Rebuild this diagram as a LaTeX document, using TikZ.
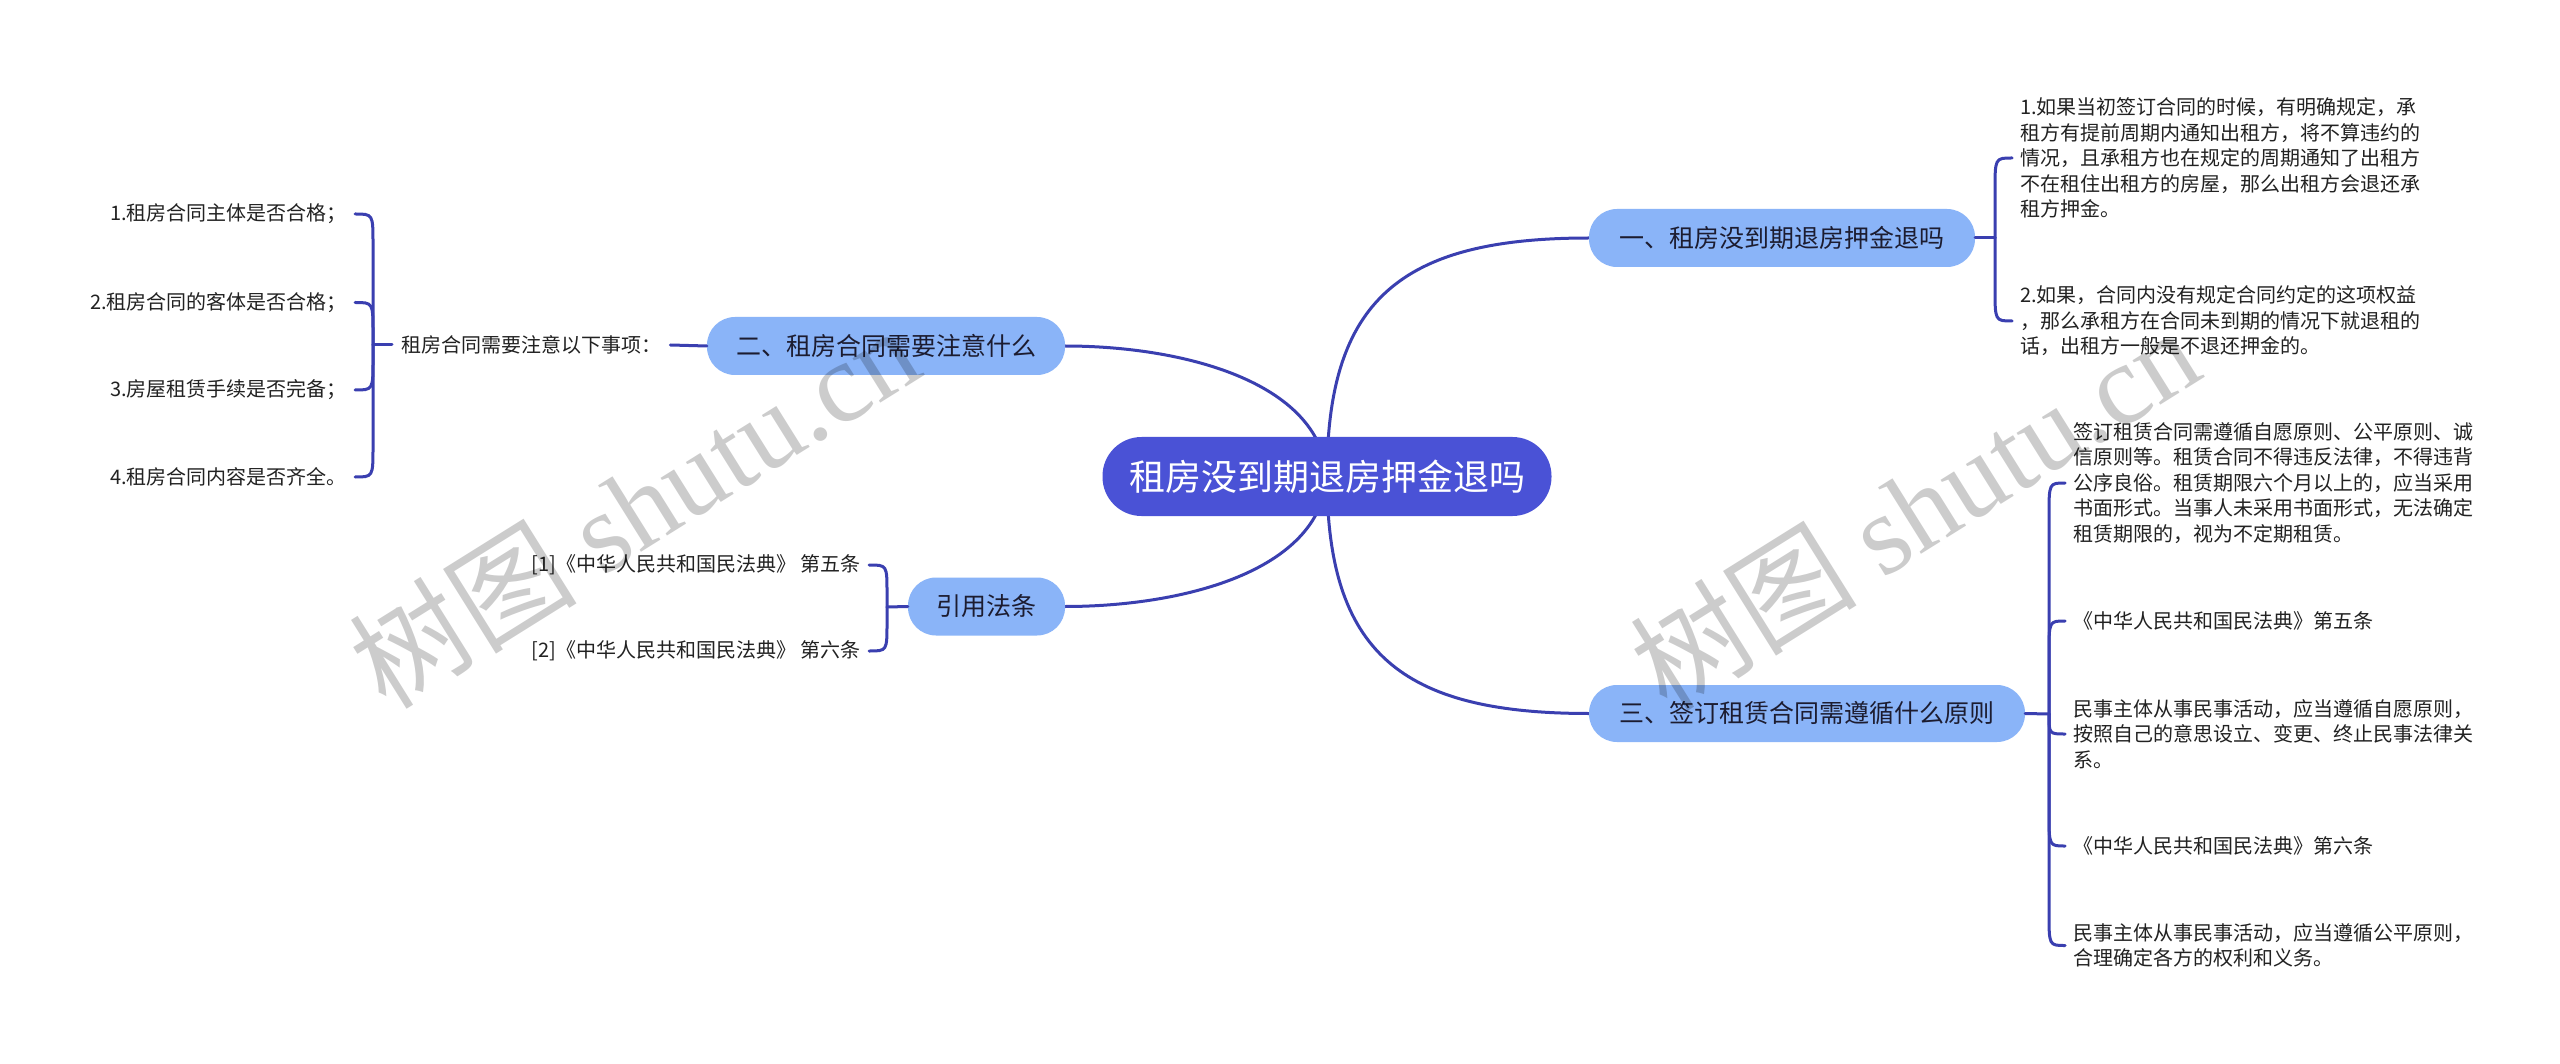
\documentclass[tikz,border=0pt]{standalone}
\usepackage{fontspec}
\setmainfont{Noto Sans CJK SC}
\newfontfamily\wmlatin{Liberation Serif}
\usetikzlibrary{calc,backgrounds}
\definecolor{rootc}{HTML}{4A52D6}
\definecolor{brc}{HTML}{8AB4F8}
\definecolor{linec}{HTML}{3A3FB0}
\definecolor{txtc}{HTML}{222222}
\definecolor{brtxt}{HTML}{1C1C30}
\newcommand{\mmlink}[3]{\draw[conn] (#1) -- ($(#1 |- #2)+(0,#3)$) .. controls (#1 |- #2) .. (#2);}
\begin{document}
\begin{tikzpicture}[x=1pt,y=-1pt,
  conn/.style={draw=linec, line width=3pt, line cap=round},
  rootbox/.style={rounded corners=39pt, fill=rootc, text=white, font=\fontsize{36}{40}\selectfont, minimum width=449pt, minimum height=79pt, inner sep=0pt},
  brbox/.style={rounded corners=28pt, fill=brc, text=brtxt, font=\fontsize{25}{30}\selectfont, minimum height=58pt, inner sep=0pt},
  leaf/.style={text=txtc, font=\fontsize{20}{25.6}\selectfont, inner xsep=8pt, inner ysep=0pt},
  wm/.style={opacity=0.2, text=black, font=\fontsize{114}{118}\selectfont, inner sep=0pt}
]
\useasboundingbox (0,0) rectangle (2560,1064);

% root and branches
\node[rootbox] (root) at (1327,476.5) {租房没到期退房押金退吗};
\node[brbox, minimum width=386pt] (b1) at (1782,238) {一、租房没到期退房押金退吗};
\node[brbox, minimum width=358pt] (b2) at (886,346) {二、租房合同需要注意什么};
\node[brbox, minimum width=157pt] (b4) at (986.5,606.5) {引用法条};
\node[brbox, minimum width=436pt, minimum height=57pt] (b3) at (1807,713.5) {三、签订租赁合同需遵循什么原则};

% background and main curves
\begin{scope}[on background layer]
\fill[white] (0,0) rectangle (2560,1064);
\draw[conn] (root.center) .. controls +(0,-176) and +(-189,0) .. (b1.west);
\draw[conn] (root.center) .. controls +(0,175) and +(-189,0) .. (b3.west);
\draw[conn] (root.center) .. controls +(-7,-96) and +(115,0) .. (b2.east);
\draw[conn] (root.center) .. controls +(-7,96) and +(115,0) .. (b4.east);
\end{scope}

% branch 1 leaves
\node[leaf, anchor=west, align=left] (l11) at (2012,158) {1.如果当初签订合同的时候，有明确规定，承\\租方有提前周期内通知出租方，将不算违约的\\情况，且承租方也在规定的周期通知了出租方\\不在租住出租方的房屋，那么出租方会退还承\\租方押金。};
\node[leaf, anchor=west, align=left] (l12) at (2012,321) {2.如果，合同内没有规定合同约定的这项权益\\，那么承租方在合同未到期的情况下就退租的\\话，出租方一般是不退还押金的。};
\coordinate (j1) at (1995,238);
\draw[conn] (b1.east) -- (j1);
\mmlink{j1}{l11.west}{33}
\mmlink{j1}{l12.west}{-33}

% branch 3 leaves
\node[leaf, anchor=west, align=left] (l31) at (2065,483) {签订租赁合同需遵循自愿原则、公平原则、诚\\信原则等。租赁合同不得违反法律，不得违背\\公序良俗。租赁期限六个月以上的，应当采用\\书面形式。当事人未采用书面形式，无法确定\\租赁期限的，视为不定期租赁。};
\node[leaf, anchor=west] (l32) at (2065,621) {《中华人民共和国民法典》第五条};
\node[leaf, anchor=west, align=left] (l33) at (2065,734) {民事主体从事民事活动，应当遵循自愿原则，\\按照自己的意思设立、变更、终止民事法律关\\系。};
\node[leaf, anchor=west] (l34) at (2065,846) {《中华人民共和国民法典》第六条};
\node[leaf, anchor=west, align=left] (l35) at (2065,945.5) {民事主体从事民事活动，应当遵循公平原则，\\合理确定各方的权利和义务。};
\coordinate (j3) at (2049,714);
\draw[conn] (b3.east) -- (j3);
\mmlink{j3}{l31.west}{33}
\mmlink{j3}{l32.west}{33}
\mmlink{j3}{l33.west}{-20}
\mmlink{j3}{l34.west}{-33}
\mmlink{j3}{l35.west}{-33}

% branch 2
\node[leaf, anchor=west, inner xsep=9pt] (m2) at (392,345) {租房合同需要注意以下事项：};
\draw[conn] (b2.west) -- (m2.east);
\coordinate (j2) at (373,345);
\draw[conn] (m2.west) -- (j2);
\node[leaf, anchor=east] (l21) at (355,214) {1.租房合同主体是否合格；};
\node[leaf, anchor=east] (l22) at (355,302.5) {2.租房合同的客体是否合格；};
\node[leaf, anchor=east] (l23) at (355,390) {3.房屋租赁手续是否完备；};
\node[leaf, anchor=east] (l24) at (355,477) {4.租房合同内容是否齐全。};
\mmlink{j2}{l21.east}{30}
\mmlink{j2}{l22.east}{30}
\mmlink{j2}{l23.east}{-30}
\mmlink{j2}{l24.east}{-30}

% branch 4
\coordinate (j4) at (887,607);
\draw[conn] (b4.west) -- (j4);
\node[leaf, anchor=east] (l41) at (869,565) {[1]《中华人民共和国民法典》 第五条};
\node[leaf, anchor=east] (l42) at (869,651) {[2]《中华人民共和国民法典》 第六条};
\mmlink{j4}{l41.east}{28}
\mmlink{j4}{l42.east}{-28}

% watermarks
\node[wm, rotate=32] (wm1) at (634,506) {树图 {\wmlatin shutu.cn}};
\node[wm, rotate=32] (wm2) at (1914,508) {树图 {\wmlatin shutu.cn}};
\end{tikzpicture}
\end{document}
